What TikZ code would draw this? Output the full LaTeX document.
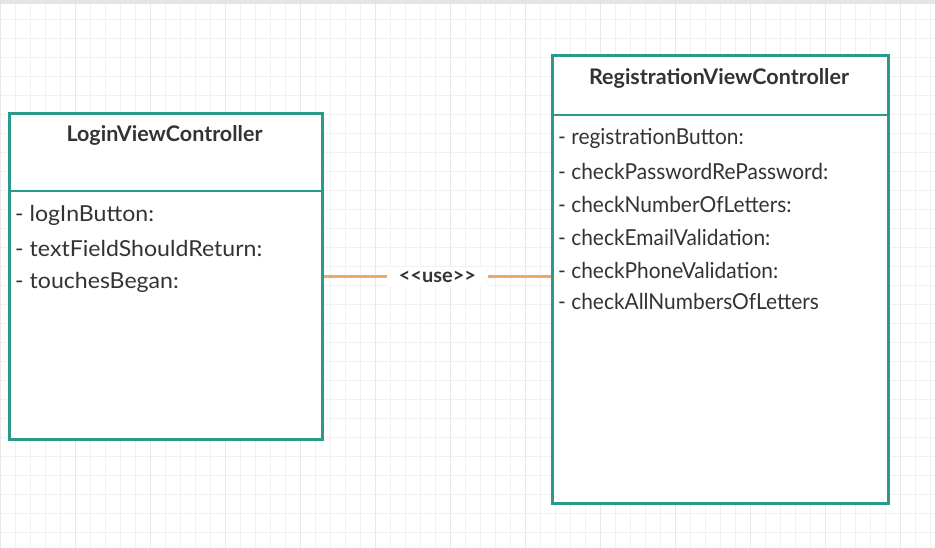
\documentclass[tikz,border=0pt]{standalone}
\usepackage{fontspec}
\setmainfont{Lato}
\newfontfamily\uselbl[Ligatures=TeXOff]{Lato}
\newcommand{\attrL}[1]{\scalebox{1.05}[1]{#1}}
\newcommand{\attrR}[1]{\scalebox{0.95}[1]{#1}}
\begin{document}
\begin{tikzpicture}[x=1pt,y=-1pt,
  cls/.style={draw=boxteal,line width=2.8pt,fill=white,inner sep=0pt,anchor=north west},
  ttl/.style={font=\fontsize{21.5}{24}\selectfont\bfseries,text=txt,inner sep=0pt},
  attr/.style={font=\fontsize{22}{25}\selectfont,text=txt,anchor=west,inner sep=0pt},
  use/.style={draw=useorange,line width=2.8pt},
]
\definecolor{boxteal}{HTML}{2B9A8B}
\definecolor{useorange}{HTML}{EDA968}
\definecolor{txt}{HTML}{333333}
\definecolor{gridc}{HTML}{F1F1F1}
\definecolor{gridm}{HTML}{E8E8E8}
\useasboundingbox (0,0) rectangle (935,548);
\fill[white] (0,0) rectangle (935,548);
\foreach \gx in {0,15,...,935} {\draw[gridc,line width=0.8pt] (\gx,0) -- (\gx,548);}
\foreach \gy in {0,19,...,548} {\draw[gridc,line width=0.8pt] (0,\gy) -- (935,\gy);}
\foreach \gx in {0,75,...,935} {\draw[gridm,line width=1pt] (\gx,0) -- (\gx,548);}
\fill[gray!20] (0,0) rectangle (935,4);
% Login box
\node[cls,minimum width=313pt,minimum height=326pt] (login) at (8,112) {};
\draw[boxteal,line width=2.8pt] (login.west |- 0,191) coordinate (ld1) -- (login.east |- ld1);
\node[ttl] (lt) at (164.5,135) {LoginViewController};
\node[attr] (l1) at (15,215) {\attrL{- logInButton:}};
\node[attr] (l2) at (15,248) {\attrL{- textFieldShouldReturn:}};
\node[attr] (l3) at (15,282) {\attrL{- touchesBegan:}};
% Registration box
\node[cls,minimum width=336pt,minimum height=448pt] (reg) at (551,54) {};
\draw[boxteal,line width=2.8pt] (reg.west |- 0,115) coordinate (rd1) -- (reg.east |- rd1);
\node[ttl] (rt) at (719,78) {RegistrationViewController};
\node[attr] (r1) at (558,138) {\attrR{- registrationButton:}};
\node[attr] (r2) at (558,171) {\attrR{- checkPasswordRePassword:}};
\node[attr] (r3) at (558,204) {\attrR{- checkNumberOfLetters:}};
\node[attr] (r4) at (558,237) {\attrR{- checkEmailValidation:}};
\node[attr] (r5) at (558,270) {\attrR{- checkPhoneValidation:}};
\node[attr] (r6) at (558,301) {\attrR{- checkAllNumbersOfLetters}};
% connector
\draw[use] (login.east) -- node[fill=white,inner xsep=12pt,inner ysep=4pt,font=\uselbl\fontsize{20}{22}\selectfont\bfseries,text=txt] (ul) {<<use>>} (login.east -| reg.west);
\end{tikzpicture}
\end{document}
